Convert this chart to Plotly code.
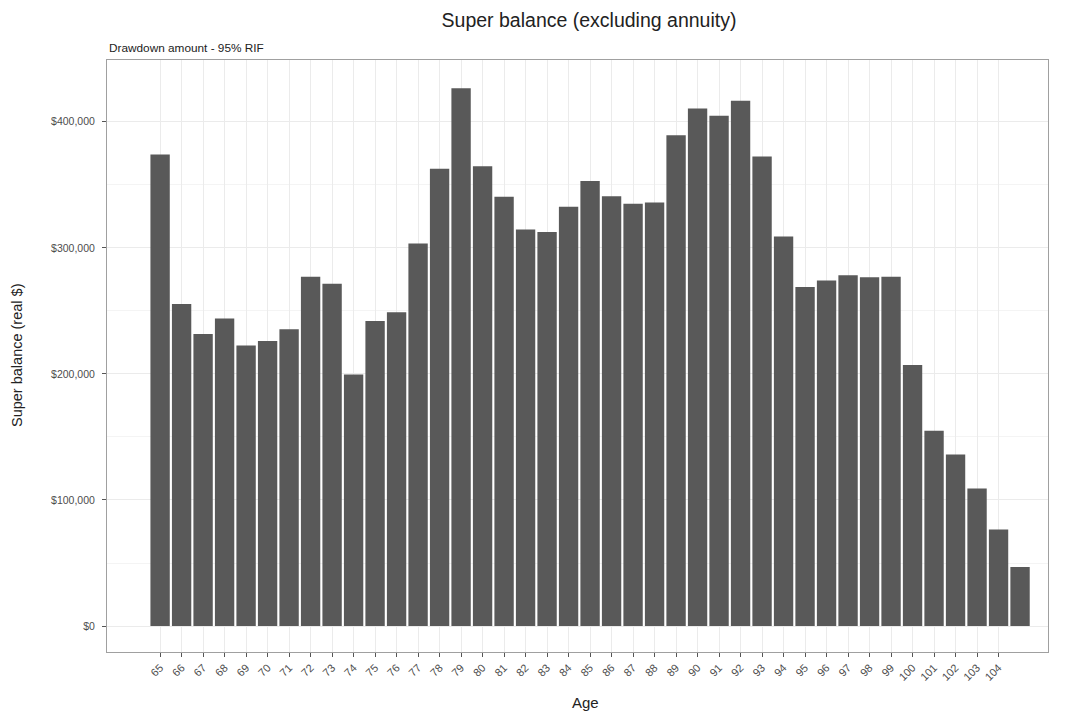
import plotly.graph_objects as go

ages = list(range(65, 106))
balance = [374000, 255500, 231700, 244000, 222500, 226000, 235500, 277000, 271500, 199500,
           242000, 249000, 303500, 362700, 426500, 364800, 340500, 314600, 312500, 332500,
           353000, 341000, 335000, 336000, 389400, 410600, 404800, 416700, 372500, 309000,
           269000, 274000, 278300, 276700, 277000, 207000, 155000, 136000, 109000, 76500,
           46800]
tick_ages = list(range(65, 105))
tick_text = [str(a) for a in tick_ages]
y_ticks = [0, 100000, 200000, 300000, 400000]
y_text = ["$0", "$100,000", "$200,000", "$300,000", "$400,000"]

fig = go.Figure()
fig.add_trace(go.Bar(x=ages, y=balance, width=0.9,
                     marker=dict(color="#595959", line=dict(width=0)),
                     hovertemplate="Age %{x}: $%{y:,.0f}<extra></extra>"))

font = "Liberation Sans, Arial, sans-serif"
W, H = 1057, 707
fig.update_layout(
    width=W, height=H,
    margin=dict(l=99, r=17, t=52, b=63, autoexpand=False),
    paper_bgcolor="white", plot_bgcolor="white",
    font=dict(family=font, color="#333333"),
    showlegend=False,
    title=dict(text="Super balance (excluding annuity)", x=581 / W, xanchor="center",
               y=1 - 12 / H, yanchor="middle", font=dict(size=19.5, color="#222222")),
    annotations=[
        dict(text="Drawdown amount - 95% RIF", xref="paper", yref="paper",
             x=0, y=1.0, xanchor="left", yanchor="bottom", yshift=3,
             showarrow=False, font=dict(size=11.8, color="#222222")),
        dict(text="Age", xref="paper", yref="paper",
             x=0.5085, y=0, xanchor="center", yanchor="middle", yshift=-50,
             showarrow=False, font=dict(size=15, color="#222222")),
    ],
    xaxis=dict(range=[62.53, 106.3], tickmode="array", tickvals=tick_ages, ticktext=tick_text,
               tickangle=-45, tickfont=dict(size=11, color="#4D4D4D"),
               ticks="outside", ticklen=4, tickcolor="#555555", automargin=False,
               showgrid=True, gridcolor="#EBEBEB", gridwidth=1,
               showline=True, linecolor="#A0A0A0", mirror=True, zeroline=False),
    yaxis=dict(range=[-20600, 449000], tickmode="array", tickvals=y_ticks, ticktext=y_text,
               tickfont=dict(size=10.5, color="#4D4D4D"), ticklabelstandoff=5,
               ticks="outside", ticklen=4, tickcolor="#555555", automargin=False,
               showgrid=True, gridcolor="#EBEBEB", gridwidth=1,
               minor=dict(tickvals=[50000, 150000, 250000, 350000], showgrid=True,
                          gridcolor="#F4F4F4", gridwidth=0.5, ticks=""),
               showline=True, linecolor="#A0A0A0", mirror=True, zeroline=False),
)
fig.add_annotation(text="Super balance (real $)", xref="paper", yref="paper",
                   x=0, y=0.5, xshift=-90, textangle=-90, xanchor="center", yanchor="middle",
                   showarrow=False, font=dict(size=14.5, color="#222222"))

fig.write_html("out.html")
